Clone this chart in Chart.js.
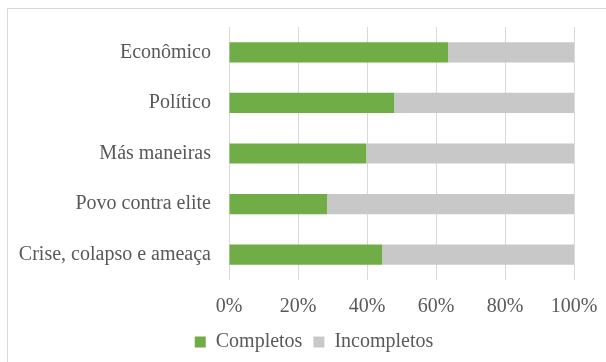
<!DOCTYPE html>
<html>
<head>
<meta charset="utf-8">
<script src="https://cdn.jsdelivr.net/npm/chart.js@4"></script>
<style>
  html, body { margin: 0; padding: 0; background: #fff; overflow: hidden; }
  #wrap { position: relative; width: 606px; height: 362px; }
  #frame { position: absolute; left: 7px; top: 8px; width: 700px; height: 500px; border: 1px solid #d9d9d9; box-sizing: border-box; }
  #grafico { position: absolute; left: 0; top: 0; }
</style>
</head>
<body>
<div id="wrap">
  <div id="frame"></div>
  <canvas id="grafico" width="606" height="362"></canvas>
</div>
<script>
let categorias = ["Econômico", "Político", "Más maneiras", "Povo contra elite", "Crise, colapso e ameaça"];
let completos = [63.5, 47.9, 39.8, 28.4, 44.4];
let incompletos = [36.5, 52.1, 60.2, 71.6, 55.6];
let ticksX = [0, 20, 40, 60, 80, 100];

const fonte = { family: "'Liberation Serif', 'Times New Roman', serif", size: 20 };
const corTexto = "#595959";

// nudge the legend a bit to the right of the canvas centre
const legendaOffset = {
  id: 'legendaOffset',
  afterLayout(chart) {
    chart.legend.left += 27;
    chart.legend.right += 27;
  },
};

const ctx = document.getElementById('grafico');
const chart = new Chart(ctx, {
  type: 'bar',
  data: {
    labels: categorias,
    datasets: [{
      label: 'Completos',
      data: completos,
      backgroundColor: '#70ad47',
      barPercentage: 0.4,
      categoryPercentage: 1,
    }, {
      label: 'Incompletos',
      data: incompletos,
      backgroundColor: '#c8c8c8',
      barPercentage: 0.4,
      categoryPercentage: 1,
    }],
  },
  options: {
    indexAxis: 'y',
    responsive: false,
    animation: false,
    layout: { padding: { top: 27, right: 32, left: 0, bottom: 0 } },
    scales: {
      x: {
        stacked: true,
        min: 0,
        max: 100,
        afterBuildTicks: (scale) => { scale.ticks = ticksX.map(v => ({ value: v })); },
        afterFit: (scale) => {
          scale.height = 41;
          scale.paddingLeft = 0;
          scale.paddingRight = 0;
        },
        ticks: { callback: (v) => v + '%', color: corTexto, font: fonte, padding: 15, maxRotation: 0 },
        grid: { color: '#d9d9d9', drawTicks: false },
        border: { display: false },
      },
      y: {
        stacked: true,
        afterFit: (scale) => {
          scale.width = 229;
          scale.paddingTop = 0;
          scale.paddingBottom = 0;
        },
        ticks: { color: corTexto, font: fonte, padding: 18 },
        grid: { display: false, drawTicks: false },
        border: { display: false },
      },
    },
    plugins: {
      legend: {
        position: 'bottom',
        labels: { boxWidth: 11, boxHeight: 11, color: corTexto, font: fonte, padding: 11 },
      },
      tooltip: { enabled: false },
    },
  },
  plugins: [legendaOffset],
});
</script>
</body>
</html>
